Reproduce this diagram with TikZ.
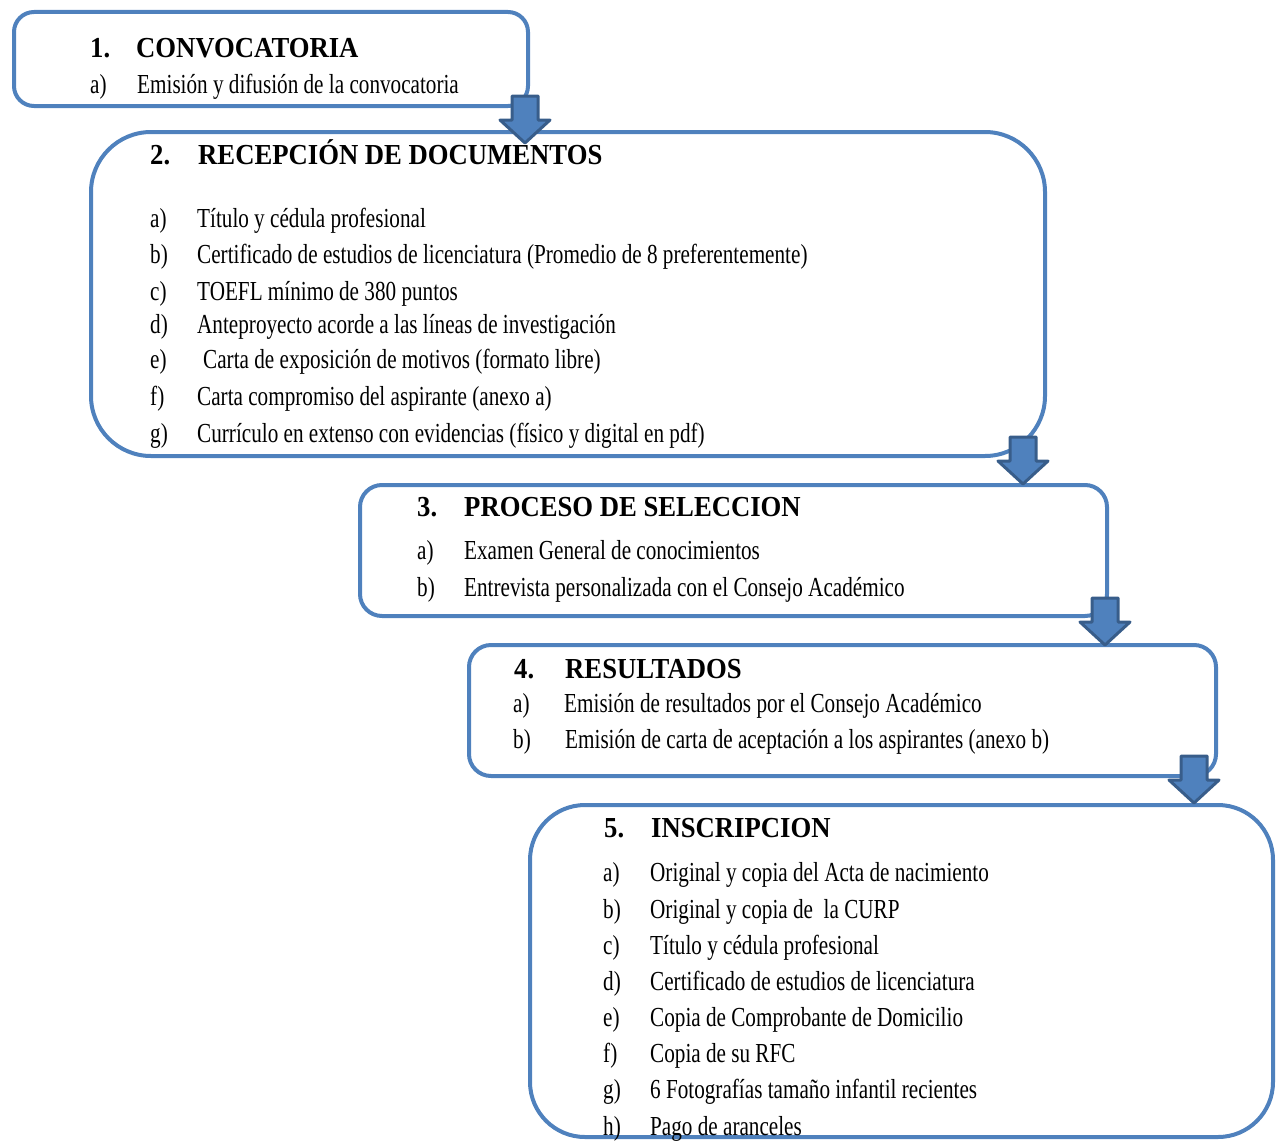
\documentclass[tikz,border=0pt]{standalone}
\usepackage{fontspec}
\setmainfont{Liberation Serif}
\newfontfamily\bodyfont[FakeStretch=0.77]{Liberation Serif}
\newfontfamily\headfont[FakeStretch=0.92]{Liberation Serif}
\definecolor{boxblue}{HTML}{4F81BD}
\definecolor{arrowedge}{HTML}{385D8A}
\tikzset{
  box/.style={draw=boxblue, line width=4pt, rectangle, inner sep=0pt},
  hd/.style={anchor=base west, inner sep=0pt, font=\headfont\bfseries\fontsize{29}{32}\selectfont},
  it/.style={anchor=base west, inner sep=0pt, font=\bodyfont\fontsize{27.5}{30}\selectfont},
  blockarrow/.style={fill=boxblue, draw=arrowedge, line width=3pt, line join=round}
}
\newcommand\downblock[2]{%
  \draw[blockarrow] (#1-13,#2) -- (#1+13,#2) -- (#1+13,#2+24) -- (#1+25,#2+24)
    -- (#1,#2+47) -- (#1-25,#2+24) -- (#1-13,#2+24) -- cycle;}
\begin{document}
\begin{tikzpicture}[x=1pt,y=-1pt]
\useasboundingbox (0,0) rectangle (1276,1140);
% boxes
\node[box, rounded corners=20pt, minimum width=514pt, minimum height=94pt] (b1) at (271,59) {};
\node[box, rounded corners=60pt, minimum width=954pt, minimum height=324pt] (b2) at (568,294) {};
\node[box, rounded corners=22pt, minimum width=747pt, minimum height=131pt] (b3) at (733.5,550.5) {};
\node[box, rounded corners=22pt, minimum width=747pt, minimum height=131pt] (b4) at (842.5,710.5) {};
\node[box, rounded corners=55pt, minimum width=743pt, minimum height=332pt] (b5) at (901.5,971) {};
% block arrows
\downblock{525}{96}
\downblock{1023}{437}
\downblock{1105}{598}
\downblock{1194}{756}
% box 1
\node[hd] (h1n) at (90,57) {1.};
\node[hd] (h1) at (136,57) {CONVOCATORIA};
\node[it] (l1a) at (90,93) {a)};
\node[it] (t1a) at (137,93) {Emisión y difusión de la convocatoria};
% box 2
\node[hd] (h2n) at (150,164) {2.};
\node[hd] (h2) at (198,164) {RECEPCIÓN DE DOCUMENTOS};
\node[it] (l2a) at (150,227) {a)};
\node[it] (t2a) at (197,227) {Título y cédula profesional};
\node[it] (l2b) at (150,263) {b)};
\node[it] (t2b) at (197,263) {Certificado de estudios de licenciatura (Promedio de 8 preferentemente)};
\node[it] (l2c) at (150,300) {c)};
\node[it] (t2c) at (197,300) {TOEFL mínimo de 380 puntos};
\node[it] (l2d) at (150,333) {d)};
\node[it] (t2d) at (197,333) {Anteproyecto acorde a las líneas de investigación};
\node[it] (l2e) at (150,368) {e)};
\node[it] (t2e) at (203,368) {Carta de exposición de motivos (formato libre)};
\node[it] (l2f) at (150,405) {f)};
\node[it] (t2f) at (197,405) {Carta compromiso del aspirante (anexo a)};
\node[it] (l2g) at (150,442) {g)};
\node[it] (t2g) at (197,442) {Currículo en extenso con evidencias (físico y digital en pdf)};
% box 3
\node[hd] (h3n) at (417,516) {3.};
\node[hd] (h3) at (464,516) {PROCESO DE SELECCION};
\node[it] (l3a) at (417,559) {a)};
\node[it] (t3a) at (464,559) {Examen General de conocimientos};
\node[it] (l3b) at (417,596) {b)};
\node[it] (t3b) at (464,596) {Entrevista personalizada con el Consejo Académico};
% box 4
\node[hd] (h4n) at (514,678) {4.};
\node[hd] (h4) at (565,678) {RESULTADOS};
\node[it] (l4a) at (513,712) {a)};
\node[it] (t4a) at (564,712) {Emisión de resultados por el Consejo Académico};
\node[it] (l4b) at (513,748) {b)};
\node[it] (t4b) at (565,748) {Emisión de carta de aceptación a los aspirantes (anexo b)};
% box 5
\node[hd] (h5n) at (604,837) {5.};
\node[hd] (h5) at (651,837) {INSCRIPCION};
\node[it] (l5a) at (603,881) {a)};
\node[it] (t5a) at (650,881) {Original y copia del Acta de nacimiento};
\node[it] (l5b) at (603,918) {b)};
\node[it] (t5b) at (650,918) {Original y copia de\ \ la CURP};
\node[it] (l5c) at (603,954) {c)};
\node[it] (t5c) at (650,954) {Título y cédula profesional};
\node[it] (l5d) at (603,990) {d)};
\node[it] (t5d) at (650,990) {Certificado de estudios de licenciatura};
\node[it] (l5e) at (603,1026) {e)};
\node[it] (t5e) at (650,1026) {Copia de Comprobante de Domicilio};
\node[it] (l5f) at (603,1062) {f)};
\node[it] (t5f) at (650,1062) {Copia de su RFC};
\node[it] (l5g) at (603,1098) {g)};
\node[it] (t5g) at (650,1098) {6 Fotografías tamaño infantil recientes};
\node[it] (l5h) at (603,1135) {h)};
\node[it] (t5h) at (650,1135) {Pago de aranceles};
\end{tikzpicture}
\end{document}
